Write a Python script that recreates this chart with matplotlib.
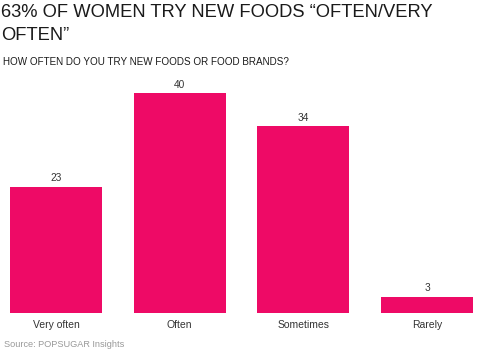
import matplotlib
matplotlib.use("Agg")
import matplotlib.pyplot as plt

plt.rcParams['font.family'] = ['Liberation Sans', 'DejaVu Sans']

categories = ["Very often", "Often", "Sometimes", "Rarely"]
values = [23, 40, 34, 3]
title = "63% OF WOMEN TRY NEW FOODS \u201cOFTEN/VERY\nOFTEN\u201d"
subtitle = "HOW OFTEN DO YOU TRY NEW FOODS OR FOOD BRANDS?"
source = "Source: POPSUGAR Insights"

W, H = 500, 355
fig = plt.figure(figsize=(W / 100, H / 100), dpi=100)
ax = fig.add_axes([0, 42 / H, 1, 247.5 / H])
x = list(range(len(categories)))
bar_color = "#EE0A66"
ax.bar(x, values, width=0.744, color=bar_color)
ax.set_xlim(-0.453, 3.590)
ax.set_ylim(0, 45)
for xi, v in zip(x, values):
    ax.text(xi, v + 0.6, str(v), ha="center", va="bottom", fontsize=7.3, color="#333333")
ax.set_xticks(x)
ax.set_xticklabels(categories, fontsize=7.5, color="#333333")
ax.tick_params(axis="x", length=0, pad=5)
ax.set_yticks([])
for s in ax.spines.values():
    s.set_visible(False)

fig.text(1 / W, 1 - 4 / H, title, ha="left", va="top", fontsize=13.2, color="#1a1a1a", linespacing=1.45)
fig.text(3 / W, 1 - 57 / H, subtitle, ha="left", va="top", fontsize=7.1, color="#1a1a1a")
fig.text(4 / W, 1 - 340 / H, source, ha="left", va="top", fontsize=6.6, color="#999999")

fig.savefig("out.png", dpi=100)
